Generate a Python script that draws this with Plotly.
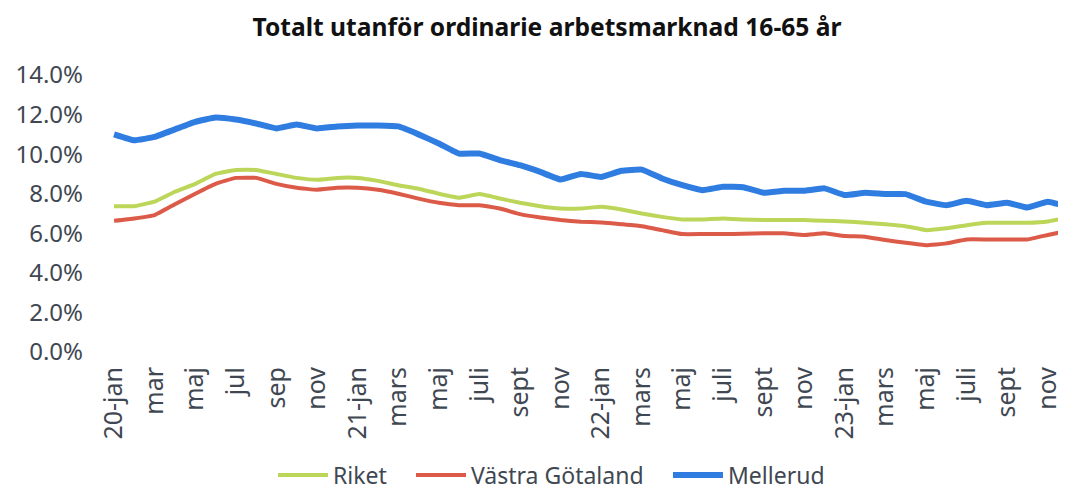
import plotly.graph_objects as go

month_labels = [
    "20-jan", "feb", "mar", "apr", "maj", "jun", "jul", "aug", "sep", "okt", "nov", "dec",
    "21-jan", "feb", "mars", "apr", "maj", "juni", "juli", "aug", "sept", "okt", "nov", "dec",
    "22-jan", "feb", "mars", "apr", "maj", "juni", "juli", "aug", "sept", "okt", "nov", "dec",
    "23-jan", "feb", "mars", "apr", "maj", "juni", "juli", "aug", "sept", "okt", "nov", "dec",
]

riket = [
    7.37, 7.37, 7.6, 8.1, 8.5, 9.0, 9.2, 9.2, 9.0, 8.8, 8.7, 8.8,
    8.8, 8.65, 8.43, 8.25, 8.0, 7.8, 7.98, 7.76, 7.54, 7.37, 7.25, 7.25,
    7.34, 7.2, 7.0, 6.83, 6.7, 6.7, 6.75, 6.7, 6.67, 6.67, 6.67, 6.63,
    6.6, 6.53, 6.46, 6.36, 6.16, 6.25, 6.41, 6.53, 6.53, 6.53, 6.6, 6.8,
]

vastra_gotaland = [
    6.63, 6.75, 6.92, 7.47, 8.0, 8.5, 8.8, 8.8, 8.5, 8.3, 8.2, 8.3,
    8.3, 8.2, 8.0, 7.75, 7.54, 7.42, 7.42, 7.25, 6.97, 6.8, 6.67, 6.58,
    6.55, 6.46, 6.36, 6.16, 5.96, 5.96, 5.96, 5.98, 6.0, 6.0, 5.91, 6.0,
    5.86, 5.83, 5.66, 5.52, 5.4, 5.49, 5.69, 5.69, 5.69, 5.69, 5.91, 6.13,
]

mellerud = [
    11.0, 10.7, 10.87, 11.25, 11.63, 11.85, 11.75, 11.55, 11.3, 11.5, 11.3, 11.4,
    11.45, 11.45, 11.4, 11.0, 10.54, 10.03, 10.03, 9.7, 9.44, 9.1, 8.72, 9.0,
    8.85, 9.16, 9.22, 8.77, 8.43, 8.18, 8.35, 8.33, 8.05, 8.15, 8.15, 8.27,
    7.93, 8.05, 7.98, 7.98, 7.6, 7.42, 7.64, 7.42, 7.54, 7.3, 7.6, 7.34,
]

y_ticks = [0, 2, 4, 6, 8, 10, 12, 14]
y_tick_text = ["0.0%", "2.0%", "4.0%", "6.0%", "8.0%", "10.0%", "12.0%", "14.0%"]

x_idx = list(range(len(month_labels)))
tick_idx = x_idx[::2]
tick_text = [month_labels[i] for i in tick_idx]

FONT = "Noto Sans"
TXT = "#3f4852"
W, H = 1066, 490

fig = go.Figure()
fig.add_trace(go.Scatter(x=x_idx, y=riket, mode="lines", name="Riket", legend="legend",
                         line=dict(color="#bcd65a", width=4, shape="spline", smoothing=0.3)))
fig.add_trace(go.Scatter(x=x_idx, y=vastra_gotaland, mode="lines", name="Västra Götaland",
                         legend="legend2",
                         line=dict(color="#dc5a48", width=4, shape="spline", smoothing=0.3)))
fig.add_trace(go.Scatter(x=x_idx, y=mellerud, mode="lines", name="Mellerud", legend="legend3",
                         line=dict(color="#2f7de1", width=6, shape="spline", smoothing=0.3)))


def leg(xpix):
    return dict(orientation="h", x=xpix / W, xref="container", xanchor="left",
                y=1 - 467 / H, yref="container", yanchor="middle", itemwidth=50,
                font=dict(family=FONT, size=23, color=TXT), bgcolor="rgba(0,0,0,0)")


fig.update_layout(
    width=W, height=H,
    margin=dict(l=104, r=8, t=67, b=146, autoexpand=False),
    paper_bgcolor="white", plot_bgcolor="white",
    font=dict(family=FONT, color=TXT),
    title=dict(text="<b>Totalt utanför ordinarie arbetsmarknad 16-65 år</b>",
               x=539 / W, xref="container", xanchor="center",
               y=1 - 19 / H, yref="container", yanchor="middle",
               font=dict(family=FONT, size=24.6, color="#111111")),
    legend=leg(265),
    legend2=leg(403),
    legend3=leg(660),
    showlegend=True,
)
fig.update_xaxes(
    range=[-0.1, 46.9], tickmode="array", tickvals=tick_idx, ticktext=tick_text,
    tickangle=-90, showgrid=False, zeroline=False, showline=False, ticks="",
    automargin=False,
    ticklabelstandoff=9, tickfont=dict(family=FONT, size=25, color=TXT),
)
fig.update_yaxes(
    range=[0, 14], tickmode="array", tickvals=y_ticks, ticktext=y_tick_text,
    showgrid=False, zeroline=False, showline=False, ticks="",
    automargin=False,
    ticklabelstandoff=28, tickfont=dict(family=FONT, size=24, color=TXT),
)

fig.write_html("out.html")
